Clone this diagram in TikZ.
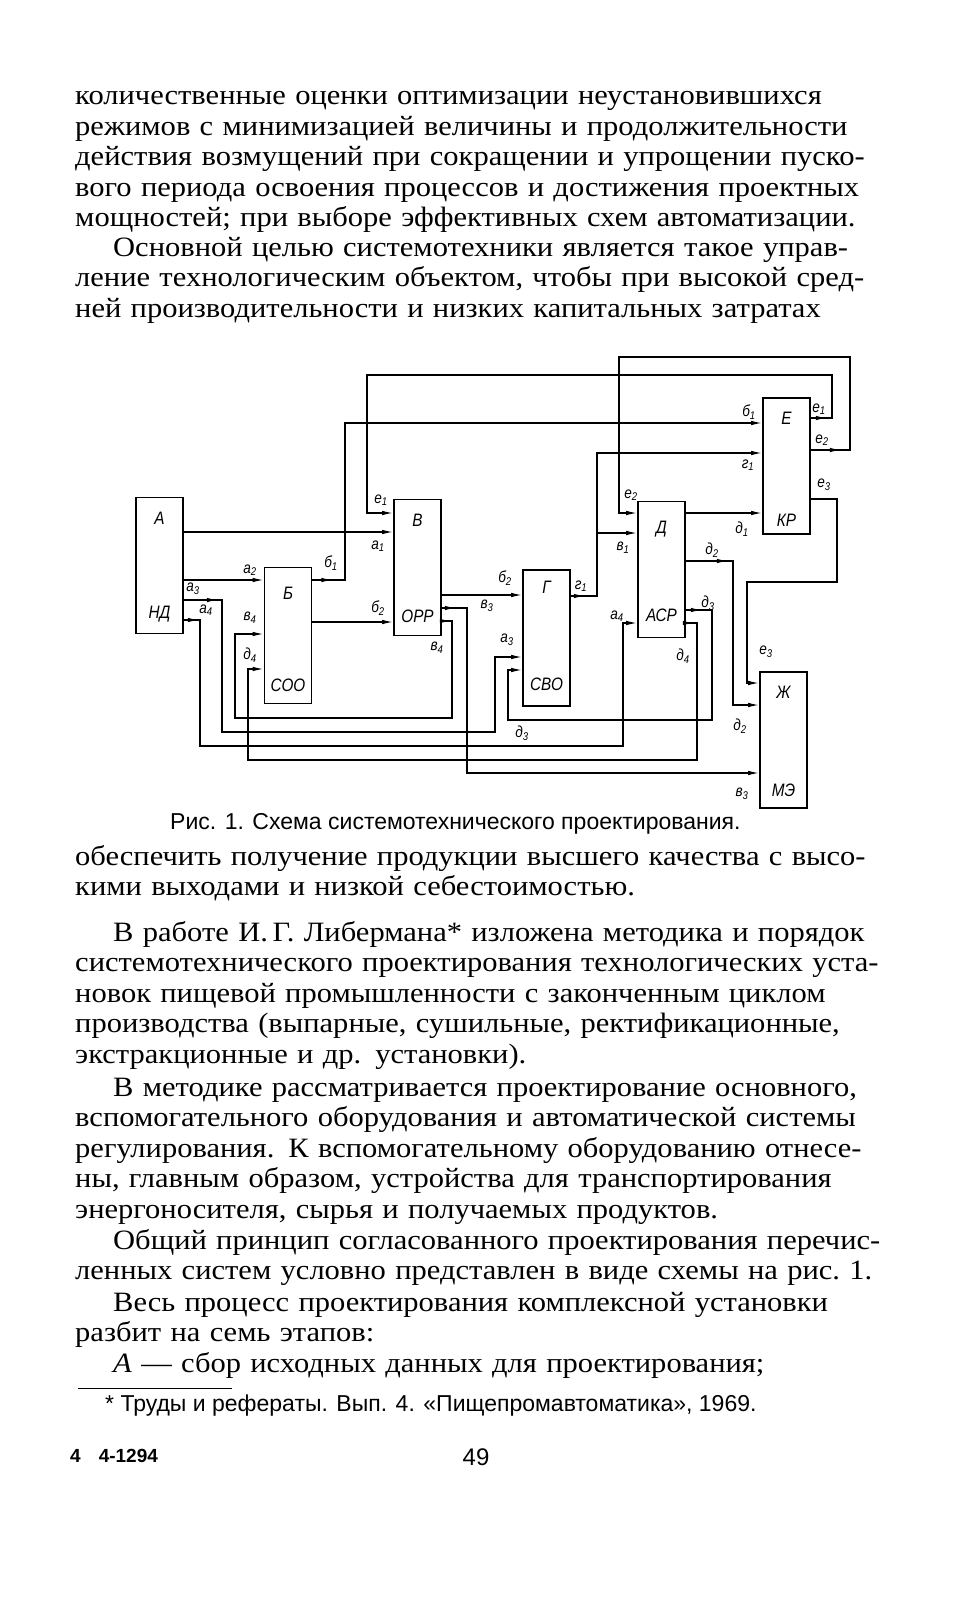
\documentclass[tikz,border=0pt]{standalone}
\usepackage{fontspec}
\setmainfont[FakeStretch=1.09]{Liberation Serif}
\newfontfamily\capfont{Liberation Sans}
\newfontfamily\drawfont[FakeStretch=0.85]{Liberation Sans}
\usetikzlibrary{arrows.meta,positioning,decorations.markings}
\newcommand{\jl}[1]{\makebox[808pt][s]{#1}}

\begin{document}
\begin{tikzpicture}[x=1pt, y=-1pt, >={Latex[length=11pt,width=4.5pt]},
  box/.style={draw, line width=1.6pt, minimum width=47pt, minimum height=136pt, inner sep=0pt},
  boxlab/.style={font=\drawfont\itshape\fontsize{18}{18}\selectfont, inner sep=0pt},
  sig/.style={font=\drawfont\itshape\fontsize{16}{16}\selectfont, inner sep=0pt},
  wire/.style={line width=1.3pt},
  flow/.style={postaction={decorate}, decoration={markings, mark=at position #1 with {\arrow{>}}}},
  body/.style={anchor=base west, inner sep=0pt, text width=808pt, align=left, font=\fontsize{28}{30.5}\selectfont},
  small/.style={anchor=base west, inner sep=0pt, font=\capfont\fontsize{23}{26}\selectfont}]
  \path[use as bounding box, fill=white] (0,0) rectangle (954,1600);

  % text above the figure
  \node[body] (p1) at (75,105) {\jl{количественные оценки оптимизации неустановившихся}\\
    \jl{режимов с минимизацией величины и продолжительности}\\
    \jl{действия возмущений при сокращении и упрощении пуско-}\\
    \jl{вого периода освоения процессов и достижения проектных}\\
    \mbox{мощностей; при выборе эффективных схем автоматизации.}};
  \node[body] (p2) at (75,256) {\jl{\hspace*{38pt}Основной целью системотехники является такое управ-}\\
    \jl{ление технологическим объектом, чтобы при высокой сред-}\\
    \jl{ней производительности и низких капитальных затратах}};

  % blocks
  \node[box] (A)  at (159.5,565.5) {};
  \node[box] (B)  at (288,635.5)   {};
  \node[box] (V)  at (417.5,567.5) {};
  \node[box] (G)  at (546.5,638)   {};
  \node[box] (D)  at (661.5,569.5) {};
  \node[box] (E)  at (786.5,466)   {};
  \node[box] (Zh) at (783.5,740)   {};

  \node[boxlab, below=15pt of A.north]  (A1)  {А};
  \node[boxlab, above=12pt of A.south]  (A2)  {НД};
  \node[boxlab, below=20pt of B.north]  (B1)  {Б};
  \node[boxlab, above=12pt of B.south]  (B2)  {СОО};
  \node[boxlab, below=15pt of V.north]  (V1)  {В};
  \node[boxlab, above=13pt of V.south]  (V2)  {ОРР};
  \node[boxlab, below=12pt of G.north]  (G1)  {Г};
  \node[boxlab, above=16pt of G.south]  (G2)  {СВО};
  \node[boxlab, below=20pt of D.north]  (D1)  {Д};
  \node[boxlab, above=16pt of D.south]  (D2)  {АСР};
  \node[boxlab, below=15pt of E.north]  (E1)  {Е};
  \node[boxlab, above=8pt of E.south]   (E2)  {КР};
  \node[boxlab, below=15pt of Zh.north] (Zh1) {Ж};
  \node[boxlab, above=12pt of Zh.south] (Zh2) {МЭ};

  % connections
  \coordinate (fork) at (597,533);
  \draw[wire,->] (A.east |- 0,532) -- (V.west |- 0,532);
  \draw[wire,->] (A.east |- 0,580) -- (B.west |- 0,580);
  \draw[wire,->,flow=34pt] (A.east |- 0,600) -| (222,732) -| (495,657) -- (G.west |- 0,657);
  \draw[wire,->,flow=15pt] (A.east |- 0,620) -| (200,746) -| (623,623) -- (D.west |- 0,623);
  \draw[wire,->,flow=20pt] (B.east |- 0,580) -| (345,423) -- (E.west |- 0,423);
  \draw[wire,->] (B.east |- 0,622) -- (V.west |- 0,622);
  \draw[wire,->] (V.east |- 0,595) -- (G.west |- 0,595);
  \draw[wire,->,flow=14pt] (V.east |- 0,608) -| (467,773) -- (Zh.west |- 0,773);
  \draw[wire,->,flow=9pt] (V.east |- 0,621) -| (452,718) -| (235,634) -- (B.west |- 0,634);
  \draw[wire,->,flow=14pt] (G.east |- 0,596) -| (597,453) -- (E.west |- 0,453);
  \draw[wire,->] (fork) -- (D.west |- fork);
  \draw[wire,->] (D.east |- 0,513) -- (E.west |- 0,513);
  \draw[wire,->,flow=42pt] (D.east |- 0,561) -| (733,705) -- (Zh.west |- 0,705);
  \draw[wire,->,flow=16pt] (D.east |- 0,610) -| (712,720) -| (508,670) -- (G.west |- 0,670);
  \draw[wire,->,flow=8pt] (D.east |- 0,623) -| (697,760) -| (248,669) -- (B.west |- 0,669);
  \draw[wire,->,flow=16pt] (E.east |- 0,418) -| (832,375) -| (367,513) -- (V.west |- 0,513);
  \draw[wire,->,flow=30pt] (E.east |- 0,450) -| (850,357) -| (619,513) -- (D.west |- 0,513);
  \draw[wire,->] (E.east |- 0,499) -| (837,582) -| (747,683) -- (Zh.west |- 0,683);

  % signal labels
  \node[sig] (la1)  at (378,546) {а\textsubscript{1}};
  \node[sig] (le1v) at (381,500) {е\textsubscript{1}};
  \node[sig] (la2)  at (250,570) {а\textsubscript{2}};
  \node[sig] (lb1)  at (331,563) {б\textsubscript{1}};
  \node[sig] (la3)  at (193,589) {а\textsubscript{3}};
  \node[sig] (la4)  at (206,610) {а\textsubscript{4}};
  \node[sig] (lb2v) at (378,608) {б\textsubscript{2}};
  \node[sig] (lv4b) at (250,618) {в\textsubscript{4}};
  \node[sig] (ld4b) at (250,655) {д\textsubscript{4}};
  \node[sig] (lv4v) at (437,648) {в\textsubscript{4}};
  \node[sig] (lb2g) at (505,578) {б\textsubscript{2}};
  \node[sig] (lv3)  at (487,606) {в\textsubscript{3}};
  \node[sig] (lg1)  at (581,586) {г\textsubscript{1}};
  \node[sig] (la3g) at (507,640) {а\textsubscript{3}};
  \node[sig] (ld3g) at (522,733) {д\textsubscript{3}};
  \node[sig] (la4d) at (617,616) {а\textsubscript{4}};
  \node[sig] (ld3d) at (708,603) {д\textsubscript{3}};
  \node[sig] (ld4d) at (683,656) {д\textsubscript{4}};
  \node[sig] (lv1)  at (623,548) {в\textsubscript{1}};
  \node[sig] (le2d) at (631,495) {е\textsubscript{2}};
  \node[sig] (ld1)  at (742,529) {д\textsubscript{1}};
  \node[sig] (ld2d) at (712,550) {д\textsubscript{2}};
  \node[sig] (lb1e) at (749,412) {б\textsubscript{1}};
  \node[sig] (lg1e) at (748,465) {г\textsubscript{1}};
  \node[sig] (le1e) at (819,409) {е\textsubscript{1}};
  \node[sig] (le2e) at (822,440) {е\textsubscript{2}};
  \node[sig] (le3e) at (824,485) {е\textsubscript{3}};
  \node[sig] (le3z) at (766,652) {е\textsubscript{3}};
  \node[sig] (ld2z) at (740,726) {д\textsubscript{2}};
  \node[sig] (lv3z) at (742,794) {в\textsubscript{3}};

  \node[small] (cap) at (170,829) {Рис. 1. Схема системотехнического проектирования.};

  % text below the figure
  \node[body] (p3) at (75,865) {\jl{обеспечить получение продукции высшего качества с высо-}\\
    кими выходами и низкой себестоимостью.};
  \node[body] (p4) at (75,941) {\jl{\hspace*{38pt}В работе И.\,Г. Либермана* изложена методика и порядок}\\
    \jl{системотехнического проектирования технологических уста-}\\
    \jl{новок пищевой промышленности с законченным циклом}\\
    \jl{производства (выпарные, сушильные, ректификационные,}\\
    экстракционные и др. установки).};
  \node[body] (p5) at (75,1096) {\jl{\hspace*{38pt}В методике рассматривается проектирование основного,}\\
    \jl{вспомогательного оборудования и автоматической системы}\\
    \jl{регулирования. К вспомогательному оборудованию отнесе-}\\
    \jl{ны, главным образом, устройства для транспортирования}\\
    энергоносителя, сырья и получаемых продуктов.};
  \node[body] (p6) at (75,1249) {\jl{\hspace*{38pt}Общий принцип согласованного проектирования перечис-}\\
    \mbox{ленных систем условно представлен в виде схемы на рис.~1.}};
  \node[body] (p7) at (75,1311) {\jl{\hspace*{38pt}Весь процесс проектирования комплексной установки}\\
    разбит на семь этапов:};
  \node[body] (p8) at (75,1372) {\hspace*{38pt}\textit{А} — сбор исходных данных для проектирования;};

  % footnote and page foot
  \draw[line width=1pt] (78,1388) -- (232,1388);
  \node[small] (fn) at (105,1411) {* Труды и рефераты. Вып. 4. «Пищепромавтоматика», 1969.};
  \node[small, font=\capfont\bfseries\fontsize{19}{22}\selectfont] (sig1) at (70,1462) {4\hspace{18pt}4-1294};
  \node[small, anchor=base, font=\capfont\fontsize{24}{26}\selectfont] (pg) at (476,1465) {49};
\end{tikzpicture}
\end{document}
